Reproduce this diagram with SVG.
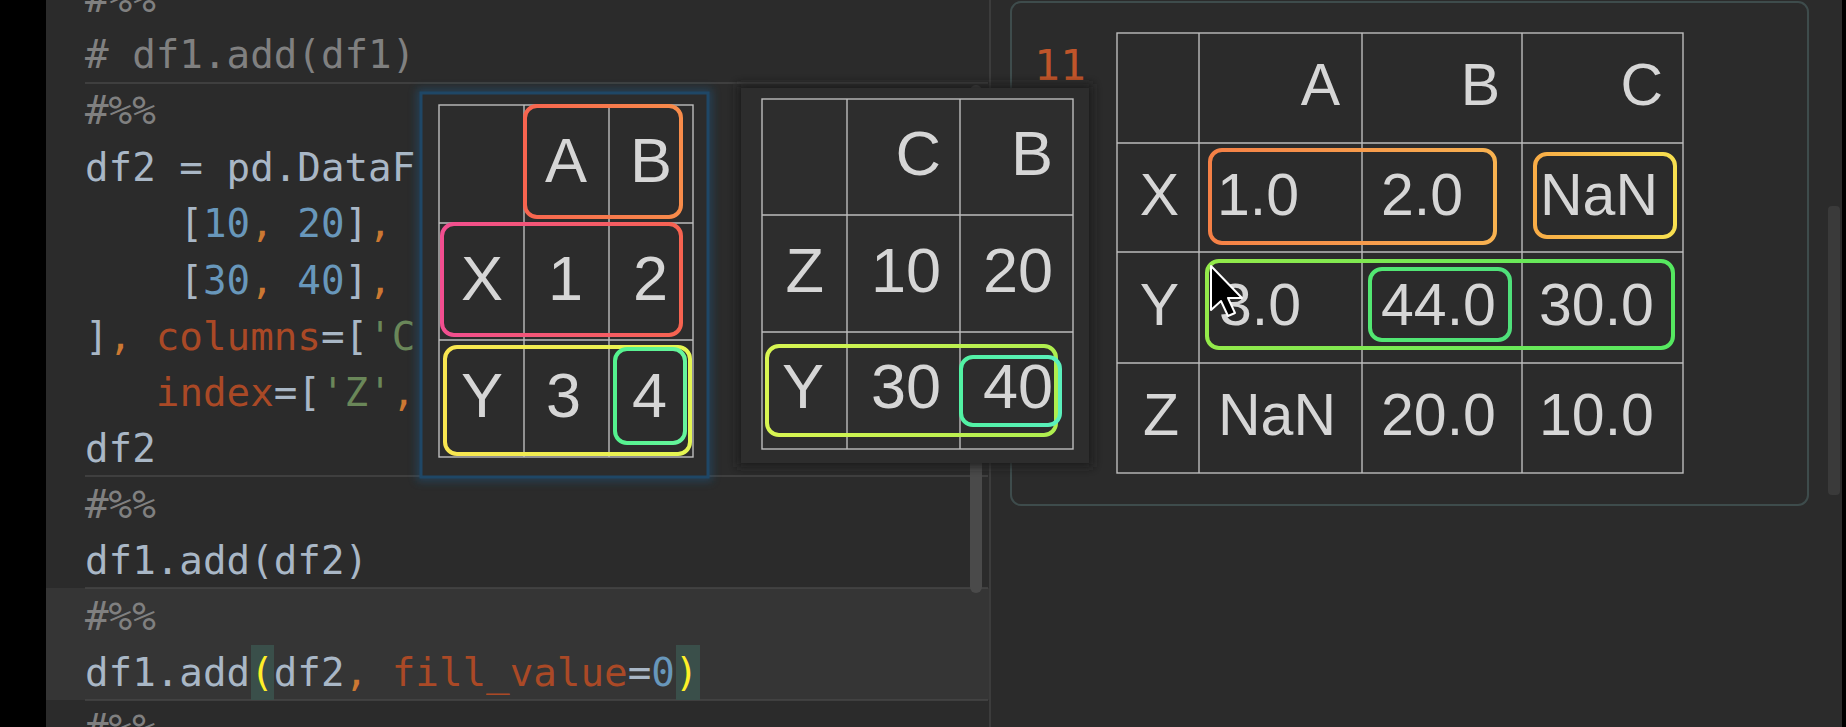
<svg xmlns="http://www.w3.org/2000/svg" width="1846" height="727" viewBox="0 0 1846 727">
<defs>
<style>
.code{font-family:"DejaVu Sans Mono","Liberation Mono",monospace;font-size:39.2px;fill:#a9b7c6}
.cm{fill:#808080}
.num{fill:#6897bb}
.op{fill:#cc7832}
.kw{fill:#aa4926}
.str{fill:#6a8759}
.br{fill:#ffef28}
.sep{stroke:#474747;stroke-width:1.5}
.grid{stroke:#bdbdbd;stroke-width:1.4;fill:none}
.cell{font-family:"Liberation Sans",Arial,sans-serif;font-size:63px;fill:#d6d6d6}
.cellr{font-family:"Liberation Sans",Arial,sans-serif;font-size:59px;fill:#d6d6d6}
.e{text-anchor:end}
.hl{fill:none;stroke-width:4}
</style>
<linearGradient id="gLA"><stop offset="0" stop-color="#f8644f"/><stop offset="1" stop-color="#f88c4a"/></linearGradient>
<linearGradient id="gLX"><stop offset="0" stop-color="#f24e90"/><stop offset="1" stop-color="#f76350"/></linearGradient>
<linearGradient id="gLY"><stop offset="0" stop-color="#f9e650"/><stop offset="1" stop-color="#e4f652"/></linearGradient>
<linearGradient id="gL4"><stop offset="0" stop-color="#54f28e"/><stop offset="1" stop-color="#66f59c"/></linearGradient>
<linearGradient id="gMY"><stop offset="0" stop-color="#d8f552"/><stop offset="1" stop-color="#aeee4f"/></linearGradient>
<linearGradient id="gM4"><stop offset="0" stop-color="#52f2a4"/><stop offset="1" stop-color="#5af0bc"/></linearGradient>
<linearGradient id="gR1"><stop offset="0" stop-color="#f58046"/><stop offset="1" stop-color="#f8b250"/></linearGradient>
<linearGradient id="gR2"><stop offset="0" stop-color="#f9ac46"/><stop offset="1" stop-color="#f8e050"/></linearGradient>
<linearGradient id="gR3"><stop offset="0" stop-color="#94ea4a"/><stop offset="1" stop-color="#55e860"/></linearGradient>
<linearGradient id="gR4"><stop offset="0" stop-color="#52e872"/><stop offset="1" stop-color="#4fe07a"/></linearGradient>
<filter id="blur" x="-10%" y="-10%" width="120%" height="120%"><feGaussianBlur stdDeviation="4"/></filter>
</defs>

<rect x="0" y="0" width="1846" height="727" fill="#2b2b2b"/>

<g id="editor">
<rect x="0" y="0" width="46" height="727" fill="#000"/>
<rect x="46" y="588" width="944" height="112" fill="#353535"/>
<line class="sep" x1="85" y1="83" x2="988" y2="83"/>
<line class="sep" x1="85" y1="476" x2="988" y2="476"/>
<line class="sep" x1="85" y1="588" x2="988" y2="588"/>
<line class="sep" x1="85" y1="700" x2="988" y2="700"/>
<rect x="251" y="645" width="23" height="55" fill="#3a4f4a"/>
<rect x="676" y="645" width="24" height="55" fill="#3a4f4a"/>
<rect x="970" y="85" width="12" height="508" rx="6" fill="#4a4a4a"/>
<line x1="990" y1="0" x2="990" y2="727" stroke="#3c3c3c" stroke-width="2"/>
</g>

<g id="code" class="code" xml:space="preserve">
<text x="85" y="12" class="cm">#%%</text>
<text x="85" y="68" class="cm"># df1.add(df1)</text>
<text x="85" y="124" class="cm">#%%</text>
<text x="85" y="181">df2 = pd.DataF</text>
<text x="179.4" y="237">[<tspan class="num">10</tspan><tspan class="op">,</tspan> <tspan class="num">20</tspan>]<tspan class="op">,</tspan></text>
<text x="179.4" y="294">[<tspan class="num">30</tspan><tspan class="op">,</tspan> <tspan class="num">40</tspan>]<tspan class="op">,</tspan></text>
<text x="85" y="350">]<tspan class="op">,</tspan> <tspan class="kw">columns</tspan>=[<tspan class="str">'C</tspan></text>
<text x="155.8" y="406"><tspan class="kw">index</tspan>=[<tspan class="str">'Z'</tspan><tspan class="op">,</tspan></text>
<text x="85" y="462">df2</text>
<text x="85" y="518" class="cm">#%%</text>
<text x="85" y="574">df1.add(df2)</text>
<text x="85" y="630" class="cm">#%%</text>
<text x="85" y="686">df1.add<tspan class="br">(</tspan>df2<tspan class="op">,</tspan> <tspan class="kw">fill_value</tspan>=<tspan class="num">0</tspan><tspan class="br">)</tspan></text>
<text x="85" y="742" class="cm">#%%</text>
</g>

<g id="output-panel">
<rect x="1011" y="2" width="797" height="503" rx="10" fill="#2b2b2b" stroke="#3e4c4c" stroke-width="2"/>
<text x="1034" y="80" style="font-family:'DejaVu Sans Mono',monospace;font-size:43px;fill:#c0552a">11</text>
<rect x="1828" y="206" width="12" height="289" rx="4" fill="#3a3a3a"/>
<rect x="1842" y="0" width="4" height="727" fill="#000"/>
</g>

<g id="popup-df1">
<rect x="421" y="93" width="287" height="384" fill="none" stroke="#1e5a86" stroke-width="8" opacity="0.5" filter="url(#blur)"/>
<rect x="421" y="93" width="287" height="384" fill="#2c2c2c" stroke="#1f4766" stroke-width="3"/>
<g class="grid">
<rect x="439" y="105" width="254" height="352"/>
<line x1="524" y1="105" x2="524" y2="457"/>
<line x1="609" y1="105" x2="609" y2="457"/>
<line x1="439" y1="223" x2="693" y2="223"/>
<line x1="439" y1="340" x2="693" y2="340"/>
</g>
<g class="cell e">
<text x="587" y="182">A</text>
<text x="672" y="182">B</text>
<text x="503" y="300">X</text>
<text x="583" y="300">1</text>
<text x="668" y="300">2</text>
<text x="503" y="417">Y</text>
<text x="581" y="417">3</text>
<text x="667" y="417">4</text>
</g>
<rect class="hl" x="525" y="106" width="156" height="111" rx="12" stroke="url(#gLA)"/>
<rect class="hl" x="442" y="224" width="239" height="111" rx="12" stroke="url(#gLX)"/>
<rect class="hl" x="445" y="347" width="245" height="107" rx="12" stroke="url(#gLY)"/>
<rect class="hl" x="615" y="349" width="70" height="94" rx="12" stroke="url(#gL4)"/>
</g>

<g id="popup-df2">
<rect x="737" y="84" width="356" height="383" fill="#1a1a1a" opacity="0.8" filter="url(#blur)"/>
<rect x="741" y="88" width="348" height="375" fill="#2d2d2d"/>
<g class="grid">
<rect x="762" y="99" width="311" height="350"/>
<line x1="847" y1="99" x2="847" y2="449"/>
<line x1="960" y1="99" x2="960" y2="449"/>
<line x1="762" y1="215" x2="1073" y2="215"/>
<line x1="762" y1="332" x2="1073" y2="332"/>
</g>
<g class="cell e">
<text x="941" y="175">C</text>
<text x="1053" y="175">B</text>
<text x="824" y="292">Z</text>
<text x="941" y="292">10</text>
<text x="1053" y="292">20</text>
<text x="824" y="408">Y</text>
<text x="941" y="408">30</text>
<text x="1053" y="408">40</text>
</g>
<rect class="hl" x="767" y="346" width="289" height="89" rx="12" stroke="url(#gMY)"/>
<rect class="hl" x="961" y="357" width="99" height="68" rx="12" stroke="url(#gM4)"/>
</g>

<g id="result-table">
<g class="grid">
<rect x="1117" y="33" width="566" height="440"/>
<line x1="1199" y1="33" x2="1199" y2="473"/>
<line x1="1362" y1="33" x2="1362" y2="473"/>
<line x1="1522" y1="33" x2="1522" y2="473"/>
<line x1="1117" y1="143" x2="1683" y2="143"/>
<line x1="1117" y1="252" x2="1683" y2="252"/>
<line x1="1117" y1="363" x2="1683" y2="363"/>
</g>
<g class="cellr e">
<text x="1340" y="105">A</text>
<text x="1500" y="105">B</text>
<text x="1663" y="105">C</text>
<text x="1179" y="215">X</text>
<text x="1179" y="325">Y</text>
<text x="1179" y="435">Z</text>
</g>
<g class="cellr">
<text x="1217" y="215">1.0</text>
<text x="1381" y="215">2.0</text>
<text x="1540" y="215">NaN</text>
<text x="1219" y="325">3.0</text>
<text x="1381" y="325">44.0</text>
<text x="1539" y="325">30.0</text>
<text x="1218" y="435">NaN</text>
<text x="1381" y="435">20.0</text>
<text x="1539" y="435">10.0</text>
</g>
<rect class="hl" x="1210" y="150" width="285" height="93" rx="12" stroke="url(#gR1)"/>
<rect class="hl" x="1535" y="154" width="140" height="83" rx="12" stroke="url(#gR2)"/>
<rect class="hl" x="1207" y="261" width="466" height="87" rx="12" stroke="url(#gR3)"/>
<rect class="hl" x="1370" y="269" width="140" height="71" rx="12" stroke="url(#gR4)"/>
</g>

<g id="cursor">
<path d="M1211,266 L1211,310 L1221,301 L1228,316 L1235,313 L1228,298 L1242,298 Z" fill="#000" stroke="#fff" stroke-width="2" stroke-linejoin="round"/>
</g>
</svg>
